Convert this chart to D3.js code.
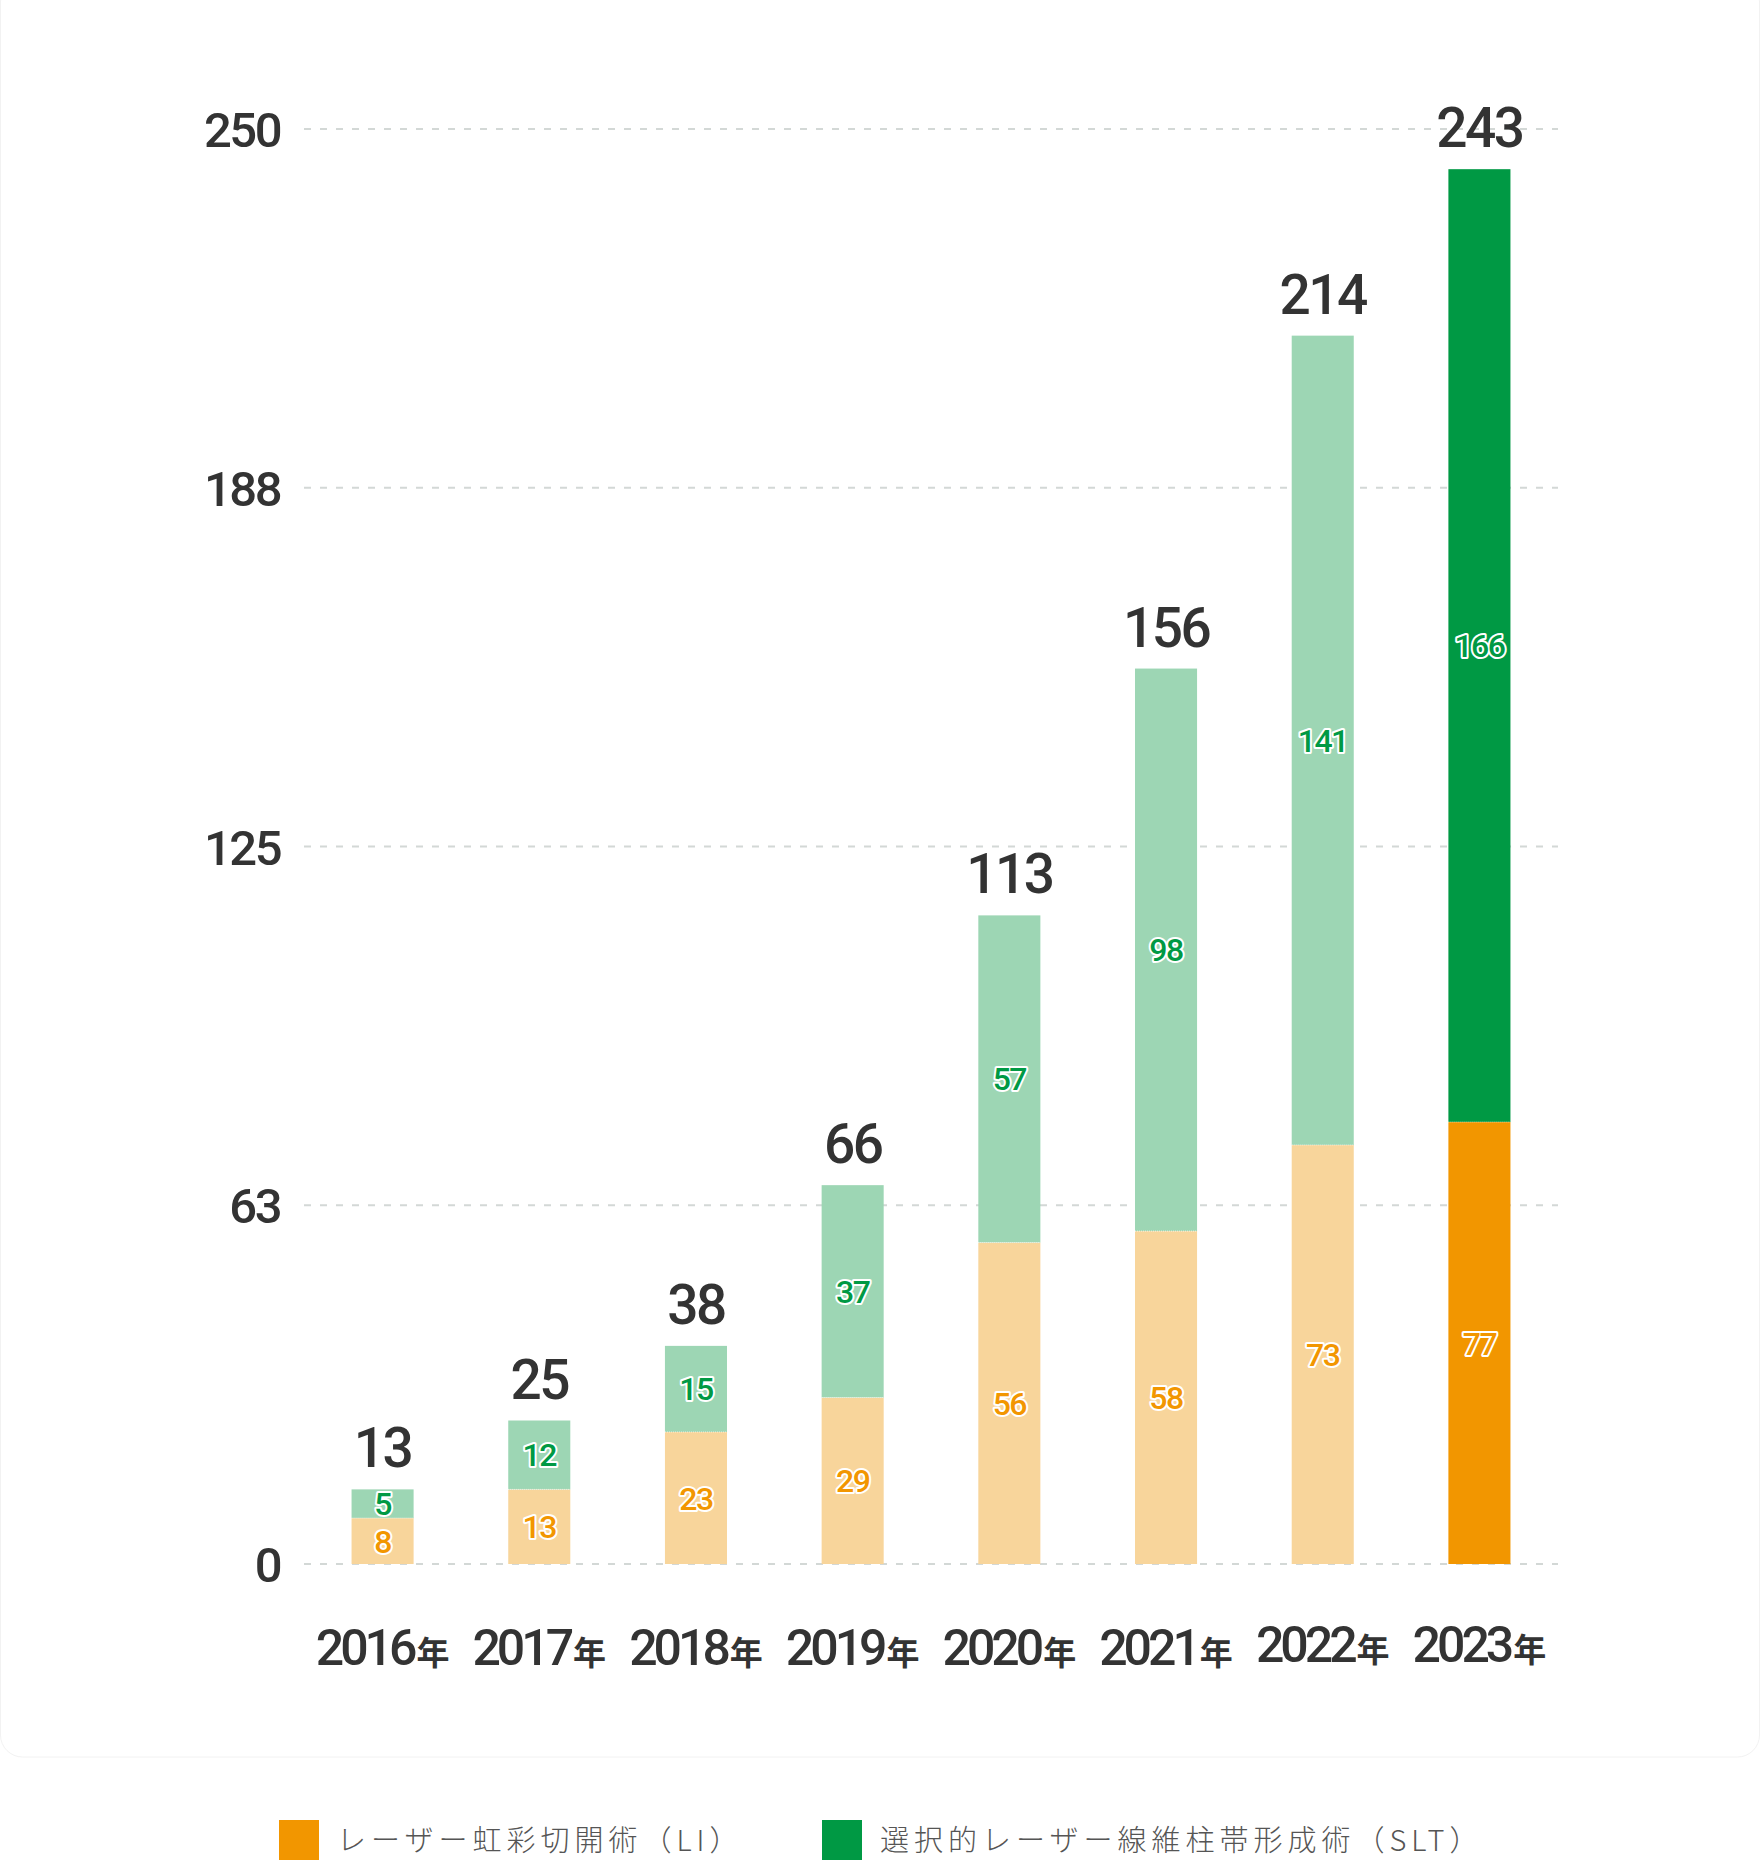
<!DOCTYPE html>
<html><head><meta charset="utf-8">
<script src="https://cdn.jsdelivr.net/npm/d3@7"></script>
<style>
html,body{margin:0;padding:0;background:#fff;}
svg{display:block;}
</style></head>
<body>
<svg id="chart" width="1760" height="1872"></svg>
<script>
const years = ["2016年","2017年","2018年","2019年","2020年","2021年","2022年","2023年"];
const liValues = [8,13,23,29,56,58,73,77];
const sltValues = [5,12,15,37,57,98,141,166];
const totals = [13,25,38,66,113,156,214,243];
const tickValues = [0,62.5,125,187.5,250];
const tickLabels = ["0","63","125","188","250"];
const seriesNames = ["レーザー虹彩切開術（LI）","選択的レーザー線維柱帯形成術（SLT）"];

const colLiLight = "#f8d59b", colSltLight = "#9dd6b4";
const colLi = "#f29600", colSlt = "#009944";
const textDark = "#333333";

const svg = d3.select("#chart");
const font = "Roboto, 'Noto Sans', sans-serif";

// card
svg.append("rect").attr("x",0.5).attr("y",-20).attr("width",1759).attr("height",1777)
  .attr("rx",22).attr("fill","none").attr("stroke","#f2f2f2").attr("stroke-width",1);

const x = d3.scaleBand().domain(years).range([304,1558]).paddingInner(0.604).paddingOuter(0.3035);
const y = d3.scaleLinear().domain([0,250]).range([1564,129]);

// grid
const grid = svg.append("g");
grid.selectAll("line").data(tickValues).join("line")
  .attr("x1",304).attr("x2",1558)
  .attr("y1",d=>y(d)).attr("y2",d=>y(d))
  .attr("stroke","#d3d8d6").attr("stroke-width",2).attr("stroke-dasharray","7 9");

// y labels
const yAxis = d3.axisLeft(y).tickValues(tickValues).tickFormat((d,i)=>tickLabels[i]).tickSize(0).tickPadding(0);
const ga = svg.append("g").attr("transform","translate(280,0)").call(yAxis);
ga.select(".domain").remove();
ga.selectAll("text").attr("font-family",font).attr("font-size",49).attr("font-weight",500)
  .attr("fill",textDark).attr("letter-spacing",-2.5).attr("dy","0.36em");

const data = years.map((yr,i)=>({yr, li:liValues[i], slt:sltValues[i], total:totals[i], last:i===years.length-1}));

const bars = svg.append("g");
// LI segments
bars.selectAll("rect.li").data(data).join("rect").attr("class","li")
  .attr("x",d=>x(d.yr)).attr("width",x.bandwidth())
  .attr("y",d=>y(d.li)).attr("height",d=>y(0)-y(d.li))
  .attr("fill",d=>d.last?colLi:colLiLight);
// SLT segments
bars.selectAll("rect.slt").data(data).join("rect").attr("class","slt")
  .attr("x",d=>x(d.yr)).attr("width",x.bandwidth())
  .attr("y",d=>y(d.li+d.slt)).attr("height",d=>y(d.li)-y(d.li+d.slt))
  .attr("fill",d=>d.last?colSlt:colSltLight);
// boundary dotted line
bars.selectAll("line.sep").data(data).join("line").attr("class","sep")
  .attr("x1",d=>x(d.yr)).attr("x2",d=>x(d.yr)+x.bandwidth())
  .attr("y1",d=>y(d.li)).attr("y2",d=>y(d.li))
  .attr("stroke","#ffffff").attr("stroke-opacity",0.7).attr("stroke-width",1).attr("stroke-dasharray","1 1");

// segment labels
function segLabels(cls, getMid, getVal, color){
  svg.append("g").selectAll("text").data(data).join("text")
    .attr("x",d=>x(d.yr)+x.bandwidth()/2)
    .attr("y",d=>getMid(d))
    .attr("dy","0.36em")
    .attr("text-anchor","middle")
    .attr("font-family",font).attr("font-size",32).attr("font-weight",500)
    .attr("letter-spacing",-1.5)
    .attr("fill",color).attr("stroke","#ffffff").attr("stroke-width",4)
    .attr("stroke-linejoin","round").attr("paint-order","stroke")
    .text(d=>getVal(d));
}
segLabels("li", d=>(y(0)+y(d.li))/2, d=>d.li, colLi);
segLabels("slt", d=>(y(d.li)+y(d.li+d.slt))/2, d=>d.slt, colSlt);

// totals
svg.append("g").selectAll("text").data(data).join("text")
  .attr("x",d=>x(d.yr)+x.bandwidth()/2)
  .attr("y",d=>y(d.total)-22)
  .attr("text-anchor","middle")
  .attr("font-family",font).attr("font-size",55).attr("font-weight",500)
  .attr("letter-spacing",-2.5)
  .attr("fill",textDark)
  .text(d=>d.total);

// x labels
const xl = svg.append("g").selectAll("text").data(data).join("text")
  .attr("x",d=>x(d.yr)+x.bandwidth()/2)
  .attr("y",(d,i)=> i>=6 ? 1662 : 1665)
  .attr("text-anchor","middle")
  .attr("font-family",font).attr("font-weight",500).attr("fill",textDark);
xl.append("tspan").attr("font-size",50).attr("letter-spacing",-4).text(d=>d.yr.replace("年",""));
xl.append("tspan").attr("font-size",33).attr("font-family","'Noto Sans CJK JP', sans-serif").attr("font-weight",700).attr("dx",3).text("年");

// legend
const legend = [
  {name:seriesNames[0], color:colLi, x:279},
  {name:seriesNames[1], color:colSlt, x:822}
];
const lg = svg.append("g");
lg.selectAll("rect").data(legend).join("rect")
  .attr("x",d=>d.x).attr("y",1820).attr("width",40).attr("height",40).attr("fill",d=>d.color);
lg.selectAll("text").data(legend).join("text")
  .attr("x",d=>d.x+58).attr("y",1841).attr("dy","0.35em")
  .attr("font-family","'Noto Sans CJK JP', sans-serif").attr("font-size",29).attr("font-weight",300)
  .attr("letter-spacing",5)
  .attr("fill","#555555")
  .text(d=>d.name);
</script>
</body></html>
